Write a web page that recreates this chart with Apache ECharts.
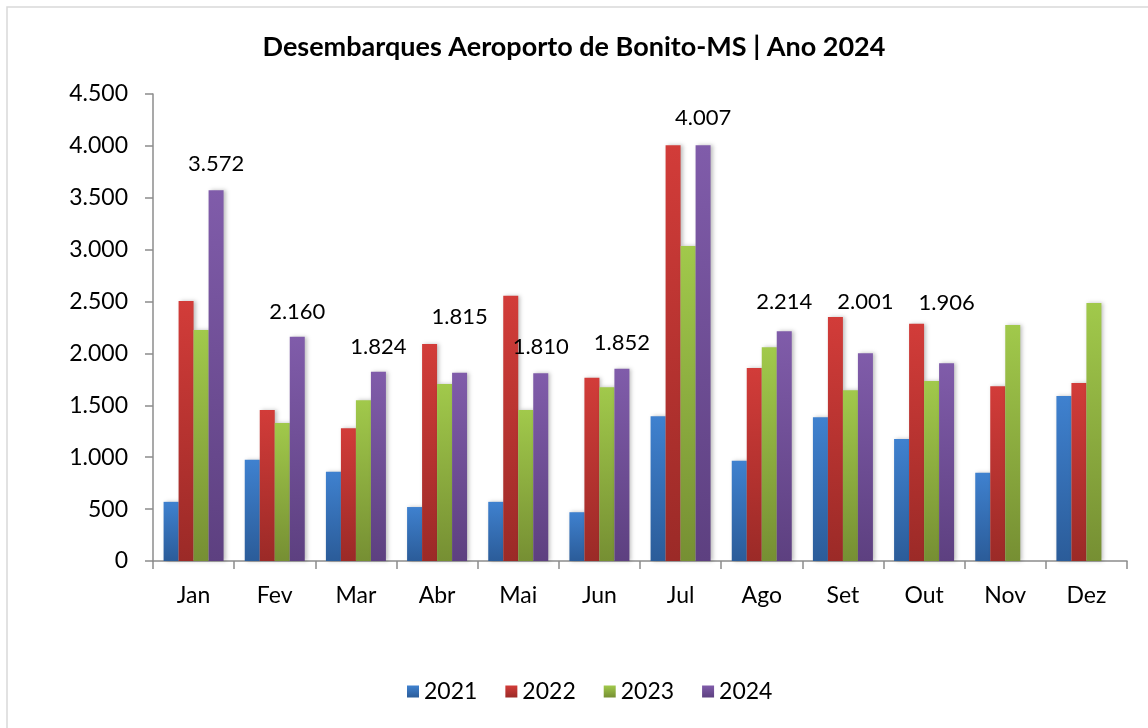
<!DOCTYPE html>
<html>
<head>
<meta charset="utf-8">
<title>Desembarques Aeroporto de Bonito-MS</title>
<script src="https://cdn.jsdelivr.net/npm/echarts@6/dist/echarts.min.js"></script>
<style>
  html, body { margin: 0; padding: 0; background: #fff; }
  #chart { width: 1148px; height: 728px; }
</style>
</head>
<body>
<div id="chart"></div>
<script>
// dados
const meses = ['Jan', 'Fev', 'Mar', 'Abr', 'Mai', 'Jun', 'Jul', 'Ago', 'Set', 'Out', 'Nov', 'Dez'];
const anos = ['2021', '2022', '2023', '2024'];
const d2021 = [570, 975, 860, 520, 570, 470, 1395, 965, 1385, 1175, 850, 1590];
const d2022 = [2505, 1455, 1280, 2090, 2555, 1765, 4005, 1860, 2350, 2285, 1685, 1715];
const d2023 = [2225, 1330, 1550, 1705, 1455, 1675, 3035, 2060, 1645, 1735, 2275, 2485];
const d2024 = [3572, 2160, 1824, 1815, 1810, 1852, 4007, 2214, 2001, 1906, null, null];

// distância do rótulo acima da barra (alguns foram deslocados no original)
const labelDist = [15, 14, 14, 45, 15, 15, 16, 18, 40, 49, 15, 15];

const cores = [
  ['#3f81cf', '#2b5c99'],
  ['#d23c39', '#9b2a27'],
  ['#a1c94b', '#768f33'],
  ['#805caa', '#5d4080']
];

function fmt(v) {
  return String(v).replace(/\B(?=(\d{3})+(?!\d))/g, '.');
}

function grad(c) {
  return new echarts.graphic.LinearGradient(0, 0, 0, 1, [
    { offset: 0, color: c[0] },
    { offset: 1, color: c[1] }
  ]);
}

const FONT = 'Lato, "Open Sans", sans-serif';
const dados = [d2021, d2022, d2023, d2024];

const series = anos.map(function (ano, i) {
  const s = {
    name: ano,
    type: 'bar',
    barWidth: 15,
    barGap: '0%',
    itemStyle: {
      color: grad(cores[i]),
      shadowColor: 'rgba(0,0,0,0.25)',
      shadowBlur: 4,
      shadowOffsetX: 2
    },
    data: dados[i]
  };
  if (i === 3) {
    s.data = d2024.map(function (v, k) {
      return {
        value: v,
        label: { show: v != null, position: 'top', distance: labelDist[k] }
      };
    });
    s.label = {
      fontFamily: FONT,
      fontSize: 22,
      color: '#000',
      formatter: function (p) { return fmt(p.value); }
    };
  }
  return s;
});

const option = {
  backgroundColor: '#fff',
  animation: false,
  textStyle: { fontFamily: FONT },
  graphic: [{
    type: 'rect',
    shape: { x: 7, y: 7, width: 1160, height: 740 },
    style: { fill: 'none', stroke: '#d9d9d9', lineWidth: 1.5 },
    silent: true
  }],
  title: {
    text: 'Desembarques Aeroporto de Bonito-MS | Ano 2024',
    left: 'center',
    top: 29,
    textStyle: { fontFamily: FONT, fontSize: 27, fontWeight: 'bold', color: '#000' }
  },
  legend: {
    bottom: 20,
    left: 402,
    itemWidth: 12,
    itemHeight: 12,
    itemGap: 28,
    icon: 'rect',
    textStyle: { fontFamily: FONT, fontSize: 23, color: '#000' },
    data: anos
  },
  grid: { left: 153, right: 21, top: 94, bottom: 167 },
  xAxis: {
    type: 'category',
    data: meses,
    axisLine: { lineStyle: { color: '#8c8c8c', width: 1.5 } },
    axisTick: { show: true, length: 8, lineStyle: { color: '#8c8c8c', width: 1.5 } },
    axisLabel: { fontFamily: FONT, fontSize: 23, color: '#000', margin: 23 }
  },
  yAxis: {
    type: 'value',
    min: 0,
    max: 4500,
    interval: 500,
    splitLine: { show: false },
    axisLine: { show: true, lineStyle: { color: '#8c8c8c', width: 1.5 } },
    axisTick: { show: true, length: 8, lineStyle: { color: '#8c8c8c', width: 1.5 } },
    axisLabel: {
      fontFamily: FONT, fontSize: 23, color: '#000', margin: 25,
      formatter: function (v) { return fmt(v); }
    }
  },
  series: series
};

const myChart = echarts.init(document.getElementById('chart'));
myChart.setOption(option);
</script>
</body>
</html>
